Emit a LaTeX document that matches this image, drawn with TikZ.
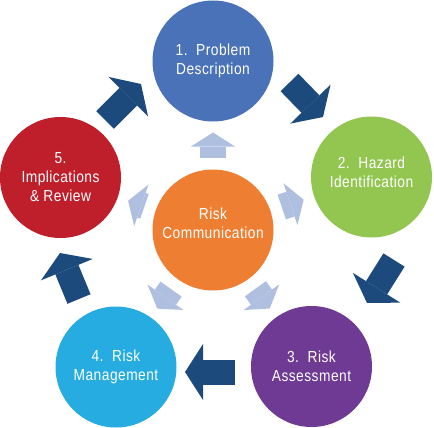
\documentclass[tikz,border=0pt]{standalone}
\usepackage{fontspec}
\setsansfont{Liberation Sans}[FakeStretch=0.86,LetterSpace=3]
\usetikzlibrary{arrows.meta}

\definecolor{pblue}{HTML}{4A72B8}
\definecolor{hgreen}{HTML}{93C651}
\definecolor{apurple}{HTML}{6F3A94}
\definecolor{mcyan}{HTML}{27ACE2}
\definecolor{ired}{HTML}{BF1F2B}
\definecolor{rorange}{HTML}{EE7E31}
\definecolor{darkarr}{HTML}{1D4A7C}
\definecolor{lightarr}{HTML}{AFBFE0}

\begin{document}
\begin{tikzpicture}[x=1pt, y=-1pt,
  st/.style={circle, fill=#1, minimum size=121pt, inner sep=0pt, outer sep=0pt,
             text=white, align=center, font=\sffamily\fontsize{16}{19}\selectfont},
  ar/.style={draw=darkarr, line width=25pt,
             -{Triangle[length=18pt,width=56pt,line width=0pt]}},
  la/.style={draw=lightarr, line width=26pt,
             -{Triangle[length=14pt,width=44pt,line width=0pt]},
             shorten <=12pt, shorten >=11pt}
]
\useasboundingbox (0,0) rectangle (434,428);

\node[st=pblue]   (P) at (213,61)    {1.\ \ Problem\\Description};
\node[st=hgreen, text depth=10pt] (H) at (371.5,177) {2.\ \ Hazard\\Identification};
\node[st=apurple] (A) at (311.5,366.5) {3.\ \ Risk\\Assessment};
\node[st=mcyan]   (M) at (116,367)   {4.\ \ Risk\\Management};
\node[st=ired]    (I) at (60.5,177.5) {5.\\Implications\\\& Review};
\node[st=rorange, text depth=13pt] (R) at (213,230) {Risk\\Communication};

% cycle arrows
\coordinate (ph0) at (289.5,82.5);  \coordinate (ph1) at (323,117);
\coordinate (ha0) at (394,260);     \coordinate (ha1) at (367,303);
\coordinate (am0) at (235,372);     \coordinate (am1) at (185,372);
\coordinate (mi0) at (79,299);      \coordinate (mi1) at (60,253);
\coordinate (ip0) at (105,120);     \coordinate (ip1) at (141,84);
\foreach \a in {ph,ha,am,mi,ip}
  \draw[ar] (\a0) -- (\a1);

% communication arrows
\foreach \n in {P,H,A,M,I}
  \draw[la] (R) -- (\n);
\end{tikzpicture}
\end{document}
